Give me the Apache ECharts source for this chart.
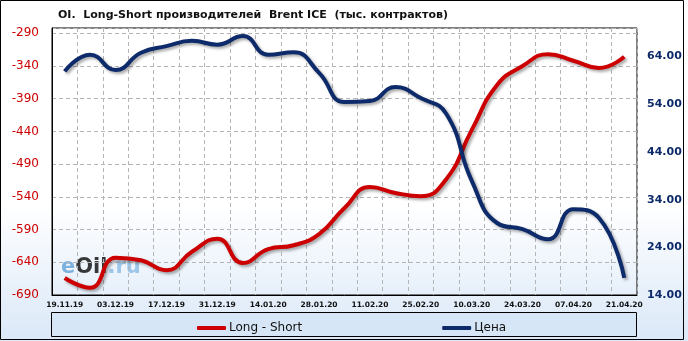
<!DOCTYPE html>
<html>
<head>
<meta charset="utf-8">
<script src="https://cdn.jsdelivr.net/npm/echarts@6/dist/echarts.min.js"></script>
<style>html,body{margin:0;padding:0;background:#fff}#c{width:688px;height:341px}</style>
</head>
<body>
<div id="c"></div>
<script>
var categories = ['19.11.19','26.11.19','03.12.19','10.12.19','17.12.19','24.12.19','31.12.19','07.01.20','14.01.20','21.01.20','28.01.20','04.02.20','11.02.20','18.02.20','25.02.20','03.03.20','10.03.20','17.03.20','24.03.20','31.03.20','07.04.20','14.04.20','21.04.20'];
var longShort = [-664,-679,-633,-637,-652,-624,-604,-641,-620,-614,-597,-557,-525,-534,-539,-513,-438,-369,-340,-322,-332,-343,-326];
var price = [60.9,64.4,61.2,64.8,66.2,67.3,66.5,68.3,64.4,64.9,60.6,54.5,54.7,57.6,55.3,52.0,38.0,29.1,27.8,25.7,32.0,30.2,17.6];
var seriesNames = ['Long - Short','Цена'];
var titleText = 'OI.  Long-Short производителей  Brent ICE  (тыс. контрактов)';

var chart = echarts.init(document.getElementById('c'), null, {renderer:'canvas'});
var FONT = 'DejaVu Sans';
var option = {
  animation: false,
  title: {
    text: titleText, left: 53, top: 5,
    textStyle: {fontFamily: FONT, fontSize: 11, fontWeight: 'bold', color: '#111'}
  },
  graphic: [
    {type:'rect', z:-100, silent:true, shape:{x:0,y:0,width:688,height:341},
     style:{fill:new echarts.graphic.LinearGradient(0,0,0,1,[{offset:0,color:'#ffffff'},{offset:0.6,color:'#ffffff'},{offset:1,color:'#dae8f8'}])}},
    {type:'rect', z:-99, silent:true, shape:{x:0.5,y:0.5,width:683,height:339},
     style:{fill:'none', stroke:'#000', lineWidth:1}},
    {type:'rect', z:-98, silent:true, shape:{x:51.5,y:312.5,width:585,height:24},
     style:{fill:'#d6e6f7', stroke:'#000', lineWidth:1}},
    {type:'text', z:-50, silent:true, left:61, top:257,
     style:{text:'{a|e}{b|Oil}{c|.ru}', rich:{
       a:{fontFamily:'DejaVu Sans',fontSize:21,fontWeight:'bold',fill:'#6aa6d8'},
       b:{fontFamily:'DejaVu Sans',fontSize:21,fontWeight:'bold',fill:'#151515'},
       c:{fontFamily:'DejaVu Sans',fontSize:21,fontWeight:'bold',fill:'#8dbde6'}}, opacity:0.85}}
  ],
  legend: {
    data: seriesNames, left: 192, top: 317, itemGap: 140,
    itemWidth: 29, itemHeight: 4, icon: 'roundRect',
    textStyle: {fontFamily: FONT, fontSize: 12, color: '#111', padding:[0,0,0,-2]}
  },
  grid: {left: 52, right: 51, top: 28, bottom: 46, show: true, borderColor: '#000', borderWidth: 1, backgroundColor: 'transparent'},
  xAxis: {
    type: 'category', data: categories, boundaryGap: true,
    axisLine: {show: true, lineStyle: {color: '#000'}},
    axisTick: {show: false},
    axisLabel: {interval: 1, fontFamily: FONT, fontSize: 7.5, fontWeight: 'bold', color: '#111', margin: 6},
    splitLine: {show: true, interval: 0, lineStyle: {color: '#b5b5b5', type: [4,3]}}
  },
  yAxis: [
    {type:'value', min:-690, max:-282, interval:50, position:'left',
     axisLine:{show:true, lineStyle:{color:'#000'}}, axisTick:{show:false},
     axisLabel:{fontFamily:FONT, fontSize:12, color:'#cc0000', margin:13, showMaxLabel:false},
     splitLine:{show:true, lineStyle:{color:'#b5b5b5', type:[4,3]}}},
    {type:'value', min:14, max:70, interval:10, position:'right',
     axisLine:{show:false}, axisTick:{show:false},
     axisLabel:{fontFamily:FONT, fontSize:11, fontWeight:'bold', color:'#0d2a6a', margin:10, showMaxLabel:false,
       formatter:function(v){return v.toFixed(2);}},
     splitLine:{show:false}}
  ],
  series: [
    {name: seriesNames[0], type:'line', yAxisIndex:0, data:longShort, smooth:0.5, symbol:'none',
     itemStyle:{color:'#cc0000'},
     lineStyle:{color:'#cc0000', width:4, shadowColor:'rgba(0,0,0,0.35)', shadowBlur:3, shadowOffsetX:2, shadowOffsetY:2}},
    {name: seriesNames[1], type:'line', yAxisIndex:1, data:price, smooth:0.5, symbol:'none',
     itemStyle:{color:'#0d2a6a'},
     lineStyle:{color:'#0d2a6a', width:4, shadowColor:'rgba(0,0,0,0.35)', shadowBlur:3, shadowOffsetX:2, shadowOffsetY:2}}
  ]
};
chart.setOption(option);
</script>
</body>
</html>
